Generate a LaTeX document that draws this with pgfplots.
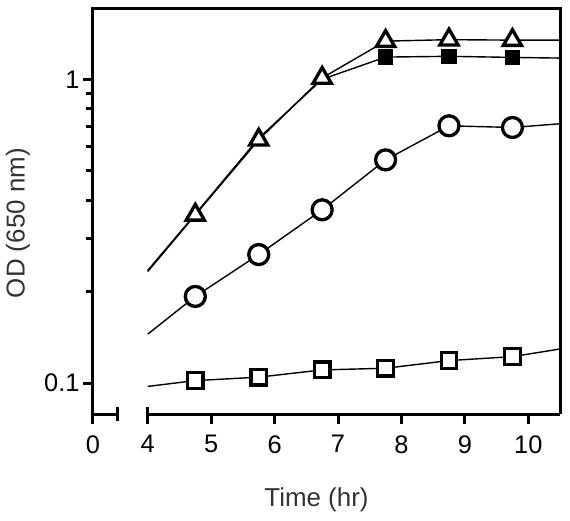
\documentclass[border=0pt]{standalone}
\usepackage{pgfplots}
\pgfplotsset{compat=1.18}
\usepackage{fontspec}
\setmainfont{Liberation Sans}
\begin{document}
\begin{tikzpicture}
\useasboundingbox (-93bp,-107bp) rectangle (477bp,414bp);
\begin{axis}[
  scale only axis, width=467bp, height=406bp,
  xmin=3.137, xmax=10.5,
  ymode=log, ymin=0.0792, ymax=1.716,
  axis line style={draw=none},
  tick pos=left, tick align=outside,
  xtick={3.137,4,5,6,7,8,9,10},
  xticklabels={0,4,5,6,7,8,9,10},
  extra x ticks={3.53,4},
  extra x tick labels={},
  extra x tick style={tick align=center, major tick length=15bp},
  ytick={0.1,1}, yticklabels={0.1,1},
  minor ytick={0.2,0.3,0.4,0.5,0.6,0.7,0.8,0.9},
  major tick length=10bp, minor tick length=7bp,
  every tick/.style={black, line width=3bp},
  /pgf/number format/assume math mode=true,
  tick label style={font=\fontsize{25.5}{30}\selectfont, black},
  xticklabel style={yshift=-8bp},
  xlabel={Time (hr)}, ylabel={OD (650 nm)},
  every axis x label/.style={at={(axis description cs:0.4786,-0.2118)}, anchor=center, font=\fontsize{26}{30}\selectfont, text=black!80},
  every axis y label/.style={at={(axis description cs:-0.1606,0.470)}, anchor=center, rotate=90, font=\fontsize{26}{30}\selectfont, text=black!80},
  clip=false,
]
% filled squares
\addplot[black, line width=1.4bp, mark=square*, mark indices={5,6,7},
  mark options={line width=1bp, fill=black}, mark size=7.3bp]
  coordinates {(4,0.235)(4.75,0.360)(5.75,0.640)(6.75,1.00)(7.75,1.183)(8.75,1.19)(9.75,1.18)(10.5,1.174)};
% open triangles
\addplot[black, line width=1.4bp, mark=triangle*, mark indices={2,3,4,5,6,7},
  mark options={line width=3.3bp, fill=white}, mark size=10.5bp]
  coordinates {(4,0.233)(4.75,0.358)(5.75,0.632)(6.75,1.01)(7.75,1.335)(8.75,1.35)(9.75,1.345)(10.5,1.345)};
% open circles
\addplot[black, line width=1.4bp, mark=*, mark indices={2,3,4,5,6,7},
  mark options={line width=3.3bp, fill=white}, mark size=10bp]
  coordinates {(4,0.145)(4.75,0.193)(5.75,0.265)(6.75,0.372)(7.75,0.543)(8.75,0.703)(9.75,0.694)(10.5,0.714)};
% open squares
\addplot[black, line width=1.4bp, mark=square*, mark indices={2,3,4,5,6,7},
  mark options={line width=3.3bp, fill=white}, mark size=7.8bp]
  coordinates {(4,0.0976)(4.75,0.102)(5.75,0.1047)(6.75,0.1106)(7.75,0.112)(8.75,0.1187)(9.75,0.1223)(10.5,0.1296)};
% frame
\draw[line width=3bp, line join=miter] (rel axis cs:0,0) -- (rel axis cs:0,1) -- (rel axis cs:1,1) -- (rel axis cs:1,0);
\draw[line width=3bp] (axis cs:3.137,0.0792) -- (axis cs:3.53,0.0792);
\draw[line width=3bp] (axis cs:4,0.0792) -- (axis cs:10.5,0.0792);
\end{axis}
\end{tikzpicture}
\end{document}
